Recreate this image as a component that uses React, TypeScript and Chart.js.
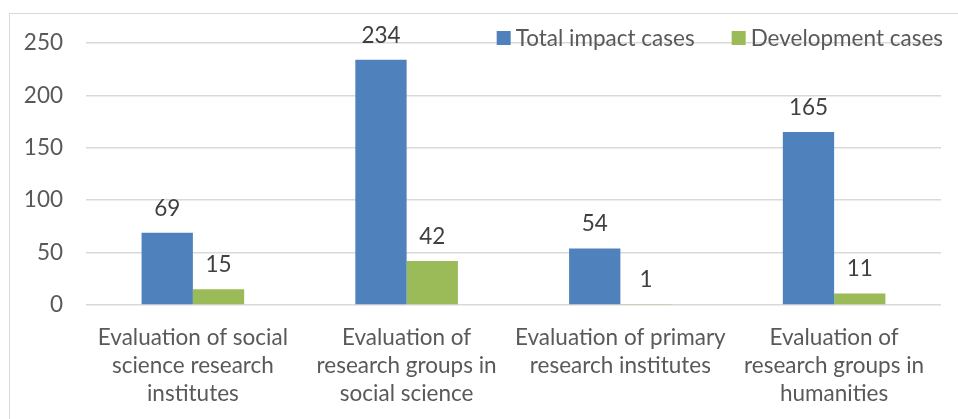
import React, { useEffect, useRef } from "react";
import { Chart, registerables } from "chart.js";

Chart.register(...registerables);

const categories: string[][] = [
  ["Evaluation of social", "science research", "institutes"],
  ["Evaluation of", "research groups in", "social science"],
  ["Evaluation of primary", "research institutes"],
  ["Evaluation of", "research groups in", "humanities"],
];
const seriesNames = ["Total impact cases", "Development cases"];
const totalImpact = [69, 234, 54, 165];
const development = [15, 42, 1, 11];
const yTicks = [0, 50, 100, 150, 200, 250];

const FONT = "Lato, 'Open Sans', sans-serif";
const FS = 22.5;

const labelsPlugin = {
  id: "valueLabels",
  afterDatasetsDraw(chart: any) {
    const ctx = chart.ctx;
    ctx.save();
    ctx.font = `${FS}px ${FONT}`;
    ctx.fillStyle = "#404040";
    ctx.textAlign = "center";
    ctx.textBaseline = "alphabetic";
    chart.data.datasets.forEach((ds: any, i: number) => {
      const meta = chart.getDatasetMeta(i);
      meta.data.forEach((bar: any, j: number) => {
        ctx.fillText(String(ds.data[j]), bar.x, bar.y - 17);
      });
    });
    ctx.restore();
  },
};

const legendPlugin = {
  id: "customLegend",
  afterDraw(chart: any) {
    const ctx = chart.ctx;
    ctx.save();
    ctx.font = `${FS}px ${FONT}`;
    const box = 14;
    const gap = 5;
    const itemGap = 37;
    const ds = chart.data.datasets;
    const widths = ds.map((d: any) => ctx.measureText(d.label).width);
    let total = 0;
    widths.forEach((w: number, i: number) => {
      total += box + gap + w + (i > 0 ? itemGap : 0);
    });
    let x = 943 - total;
    const cy = 38;
    ds.forEach((d: any, i: number) => {
      ctx.fillStyle = d.backgroundColor;
      ctx.fillRect(x, cy - box / 2, box, box);
      ctx.fillStyle = "#595959";
      ctx.textAlign = "left";
      ctx.textBaseline = "middle";
      ctx.fillText(d.label, x + box + gap, cy + 1);
      x += box + gap + widths[i] + itemGap;
    });
    ctx.restore();
  },
};

export default function App() {
  const ref = useRef<HTMLCanvasElement>(null);
  useEffect(() => {
    if (!ref.current) return;
    const chart = new Chart(ref.current, {
      type: "bar",
      data: {
        labels: categories,
        datasets: [
          { label: seriesNames[0], data: totalImpact, backgroundColor: "#4F81BD" },
          { label: seriesNames[1], data: development, backgroundColor: "#9BBB59" },
        ],
      },
      options: {
        responsive: false,
        animation: false,
        devicePixelRatio: 1,
        layout: { padding: { left: 0, right: 17, top: 43, bottom: 0 } },
        plugins: { legend: { display: false }, tooltip: { enabled: false } },
        datasets: { bar: { categoryPercentage: 0.48, barPercentage: 1 } },
        scales: {
          x: {
            grid: { display: false },
            border: { display: false },
            ticks: {
              color: "#595959",
              font: { family: FONT, size: FS, lineHeight: 1.245 },
              padding: 11,
              maxRotation: 0,
              autoSkip: false,
            },
            afterFit: (s: any) => {
              s.height = 419 - 305;
            },
          },
          y: {
            min: 0,
            max: 250,
            afterBuildTicks: (s: any) => {
              s.ticks = yTicks.map((v) => ({ value: v }));
            },
            grid: { color: "#d9d9d9", lineWidth: 1.5, drawTicks: false },
            border: { display: false },
            ticks: {
              color: "#595959",
              font: { family: FONT, size: FS },
              padding: 23,
            },
            afterFit: (s: any) => {
              s.width = 86;
            },
          },
        },
      },
      plugins: [labelsPlugin, legendPlugin],
    } as any);
    return () => chart.destroy();
  }, []);
  return (
    <div style={{ position: "fixed", left: 0, top: 0, width: 958, height: 419, background: "#fff", overflow: "hidden" }}>
      <div
        style={{
          position: "absolute",
          left: 9,
          top: 13,
          width: 1000,
          height: 500,
          borderTop: "1.5px solid #d9d9d9",
          borderLeft: "1.5px solid #d9d9d9",
        }}
      />
      <canvas ref={ref} width={958} height={419} style={{ position: "absolute", left: 0, top: 0 }} />
    </div>
  );
}
